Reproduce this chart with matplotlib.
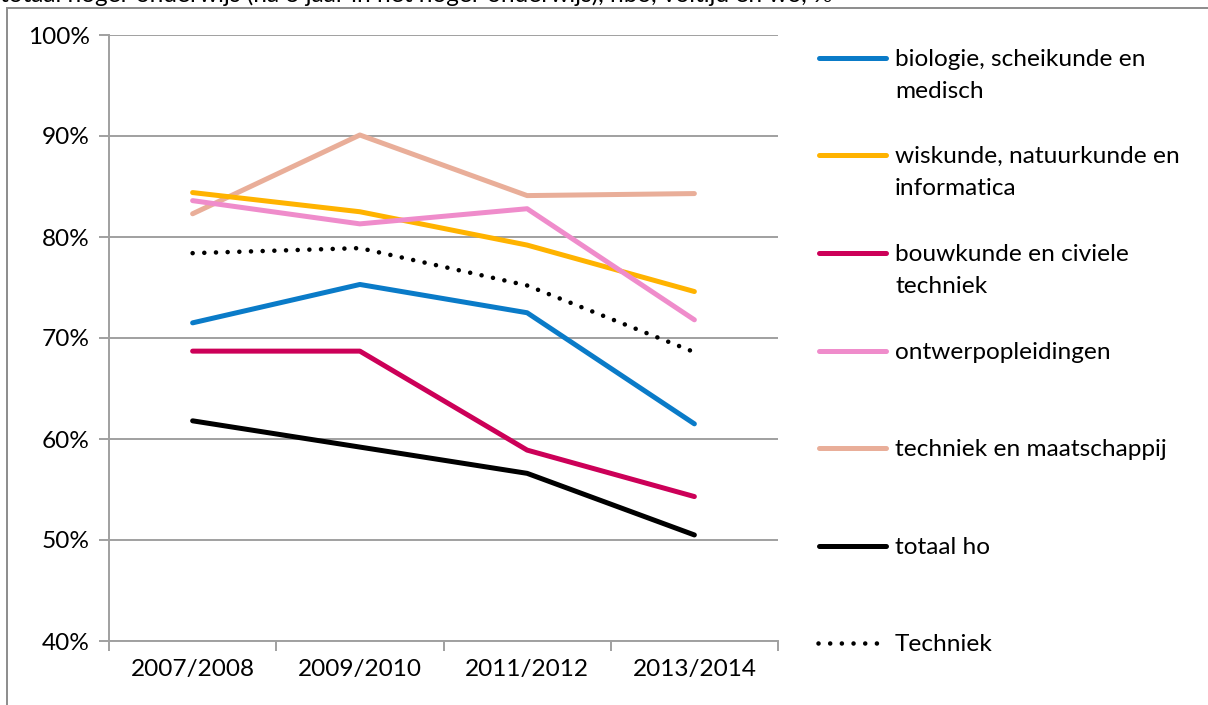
import matplotlib
matplotlib.use("Agg")
import matplotlib.pyplot as plt
from matplotlib.lines import Line2D
from matplotlib.patches import Rectangle
from matplotlib.ticker import FuncFormatter, MultipleLocator

plt.rcParams['font.family'] = ['Lato', 'DejaVu Sans']
plt.rcParams['lines.scale_dashes'] = False

years = ["2007/2008", "2009/2010", "2011/2012", "2013/2014"]

biologie = [71.5, 75.3, 72.5, 61.5]
wiskunde = [84.4, 82.5, 79.2, 74.6]
bouwkunde = [68.7, 68.7, 58.9, 54.3]
ontwerp = [83.6, 81.3, 82.8, 71.8]
maatschappij = [82.3, 90.1, 84.1, 84.3]
totaal_ho = [61.8, 59.2, 56.6, 50.5]
techniek = [78.4, 78.9, 75.2, 68.6]

labels = ["biologie, scheikunde en\nmedisch",
          "wiskunde, natuurkunde en\ninformatica",
          "bouwkunde en civiele\ntechniek",
          "ontwerpopleidingen",
          "techniek en maatschappij",
          "totaal ho",
          "Techniek"]

series = [biologie, wiskunde, bouwkunde, ontwerp, maatschappij, totaal_ho, techniek]
colors = ["#0a7bc8", "#ffb300", "#cc0058", "#ef8ccb", "#e9ae99", "#000000", "#000000"]

FS = 17.6
W, H = 1208, 705
fig = plt.figure(figsize=(W / 100, H / 100), dpi=100)

# outer chart border
fig.add_artist(Rectangle((7 / W, -0.05), 1.2, (H - 8) / H + 0.05, transform=fig.transFigure,
                         fill=False, edgecolor="#8c8c8c", linewidth=1.4))
# cut-off title at the top (only its lower edge is visible, as in the reference)
fig.text(0.0, 1 - 2.5 / H,
         "totaal hoger onderwijs (na 3 jaar in het hoger onderwijs), hbo, voltijd en wo, %",
         fontsize=FS, ha="left", va="baseline", color="#000000")

ax = fig.add_axes([109 / W, (H - 641) / H, (778 - 109) / W, (641 - 35) / H])
x = list(range(len(years)))
zorder = [3, 4, 3, 5, 2, 3, 6]
for s, c, lab, z in zip(series, colors, labels, zorder):
    if lab == "Techniek":
        ax.plot(x, s, color=c, lw=3.3, dashes=(0.01, 8.4), dash_capstyle="round", zorder=z)
    else:
        ax.plot(x, s, color=c, lw=3.6, solid_capstyle="round", solid_joinstyle="round", zorder=z)

ax.set_xlim(-0.5, len(years) - 0.5)
ax.set_ylim(40, 100)
ax.yaxis.set_major_locator(MultipleLocator(10))
ax.yaxis.set_major_formatter(FuncFormatter(lambda v, p: f"{int(round(v))}%"))
ax.set_xticks(x)
ax.set_xticklabels(years)
ax.set_xticks([i - 0.5 for i in range(len(years) + 1)], minor=True)
ax.tick_params(axis="x", which="major", length=0, pad=13, labelsize=FS)
ax.tick_params(axis="x", which="minor", length=7, width=1.4, color="#a0a0a0")
ax.tick_params(axis="y", length=7, width=1.4, color="#a0a0a0", pad=7, labelsize=FS)
ax.grid(axis="y", color="#a0a0a0", linewidth=1.4, zorder=0)
ax.set_axisbelow(True)
for sp in ["top", "right"]:
    ax.spines[sp].set_visible(False)
for sp in ["left", "bottom"]:
    ax.spines[sp].set_color("#a0a0a0")
    ax.spines[sp].set_linewidth(1.4)

# legend drawn manually to match the reference layout
legend_y = [58, 155, 253, 351, 448, 546, 643]
for lab, c, yy in zip(labels, colors, legend_y):
    yf = 1 - yy / H
    if lab == "Techniek":
        fig.add_artist(Line2D([818 / W, 880 / W], [yf, yf], color=c, lw=3.3, dashes=(0.01, 8.4),
                              dash_capstyle="round", transform=fig.transFigure))
    else:
        fig.add_artist(Line2D([819 / W, 886 / W], [yf, yf], color=c, lw=3.6, solid_capstyle="round",
                              transform=fig.transFigure))
    for k, line in enumerate(lab.split("\n")):
        fig.text(895 / W, 1 - (yy + 8 + 32 * k) / H, line, fontsize=FS, ha="left",
                 va="baseline", color="#000000")

fig.savefig("out.png", dpi=100)
